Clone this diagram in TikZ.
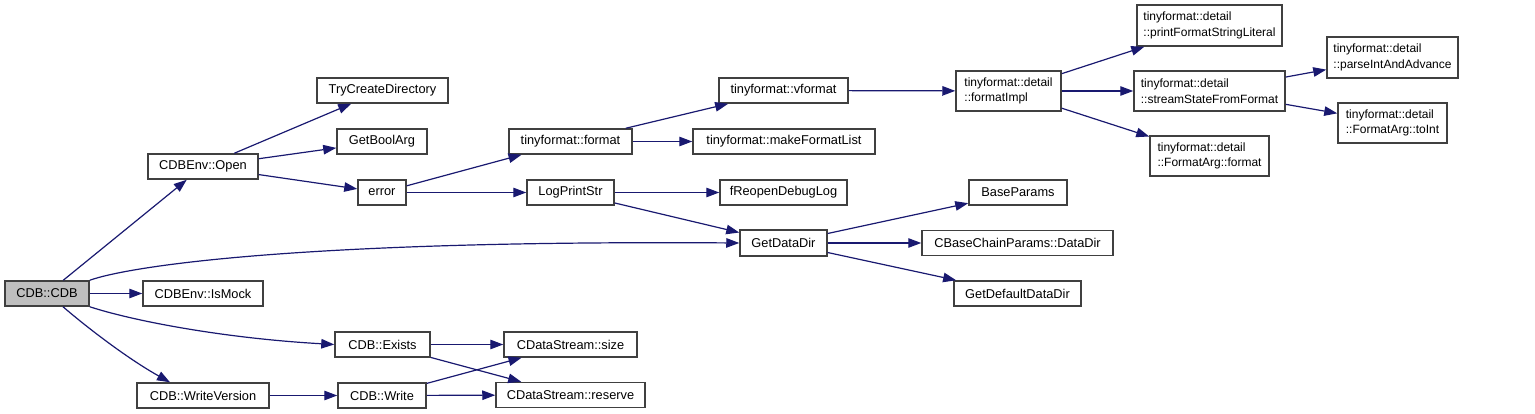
\documentclass[tikz,border=0pt]{standalone}
\usepackage{fontspec}
\setmainfont{Liberation Sans}
\usepackage{xcolor}
\usetikzlibrary{arrows.meta}
\definecolor{edgeblue}{HTML}{191970}
\definecolor{rootgray}{HTML}{BFBFBF}
\begin{document}
\begin{tikzpicture}[
            x=1pt, y=-1pt,
            fn/.style={rectangle, draw=black!75, fill=white, line width=1.5pt, minimum height=25pt, inner sep=2pt, align=left, font=\fontsize{12.8}{15}\selectfont},
            fntwo/.style={fn, font=\fontsize{12}{15.5}\selectfont},
            root/.style={fn, fill=rootgray},
            arrow/.style={-{Triangle[length=13pt,width=9.5pt]}, draw=edgeblue, line width=1.2pt}
        ]
        \useasboundingbox (0,0) rectangle (1535,414);

        % Root
        \node[root, minimum width=84pt] (cdb) at (47,293.5) {CDB::CDB};

        % First level
        \node[fn, minimum width=110pt] (open) at (203,166.5) {CDBEnv::Open};
        \node[fn, minimum width=120pt] (ismock) at (203,293.5) {CDBEnv::IsMock};
        \node[fn, minimum width=132pt] (writeversion) at (203,395.5) {CDB::WriteVersion};
        \node[fn, minimum width=95pt] (exists) at (382.5,344.5) {CDB::Exists};
        \node[fn, minimum width=88pt] (write) at (382,395.5) {CDB::Write};

        % CDBEnv::Open callees
        \node[fn, minimum width=131pt] (trycreate) at (382.5,90.5) {TryCreateDirectory};
        \node[fn, minimum width=90pt] (getboolarg) at (382,141.5) {GetBoolArg};
        \node[fn, minimum width=48pt] (error) at (382,192.5) {error};

        % Formatting
        \node[fn, minimum width=123pt] (tfformat) at (570.5,141.5) {tinyformat::format};
        \node[fn, minimum width=87pt] (logprint) at (570.5,192.5) {LogPrintStr};
        \node[fn, minimum width=129pt] (vformat) at (783.5,90.5) {tinyformat::vformat};
        \node[fn, minimum width=182pt] (makelist) at (784,141.5) {tinyformat::makeFormatList};
        \node[fn, minimum width=127pt] (freopen) at (783.5,192.5) {fReopenDebugLog};
        \node[fntwo, minimum width=105pt, minimum height=40pt] (formatimpl) at (1008.5,91) {tinyformat::detail\\::formatImpl};
        \node[fntwo, minimum width=145pt, minimum height=41pt] (printlit) at (1209.5,25.5) {tinyformat::detail\\::printFormatStringLiteral};
        \node[fntwo, minimum width=151pt, minimum height=40pt] (streamstate) at (1209.5,91) {tinyformat::detail\\::streamStateFromFormat};
        \node[fntwo, minimum width=119pt, minimum height=40pt] (argformat) at (1209.5,156) {tinyformat::detail\\::FormatArg::format};
        \node[fntwo, minimum width=131pt, minimum height=41pt] (parseint) at (1392.5,57.5) {tinyformat::detail\\::parseIntAndAdvance};
        \node[fntwo, minimum width=109pt, minimum height=40pt] (toint) at (1392.5,123) {tinyformat::detail\\::FormatArg::toInt};

        % Data dir
        \node[fn, minimum width=87pt, minimum height=26pt] (getdatadir) at (783.5,243) {GetDataDir};
        \node[fn, minimum width=98pt] (baseparams) at (1018,192.5) {BaseParams};
        \node[fn, minimum width=191pt] (chaindatadir) at (1017.5,243) {CBaseChainParams::DataDir};
        \node[fn, minimum width=127pt] (defaultdatadir) at (1017.5,293.5) {GetDefaultDataDir};

        % Streams
        \node[fn, minimum width=133pt] (dssize) at (570.5,344.5) {CDataStream::size};
        \node[fn, minimum width=149pt] (dsreserve) at (570.5,395) {CDataStream::reserve};

        % Arrows
        \draw[arrow] (cdb) -- (open);
        \draw[arrow] (cdb.north east) .. controls (130,266) and (300,240) .. (getdatadir.west);
        \draw[arrow] (cdb) -- (ismock);
        \draw[arrow] (cdb.south east) .. controls (130,320) and (220,338) .. (exists.west);
        \draw[arrow] ([xshift=16pt]cdb.south) .. controls (90,330) and (130,360) .. ([xshift=-33pt]writeversion.north);
        \draw[arrow] (open) -- (trycreate);
        \draw[arrow] (open) -- (getboolarg);
        \draw[arrow] (open) -- (error);
        \draw[arrow] (error) -- (tfformat);
        \draw[arrow] (error) -- (logprint);
        \draw[arrow] (tfformat) -- (vformat);
        \draw[arrow] (tfformat) -- (makelist);
        \draw[arrow] (vformat) -- (formatimpl);
        \draw[arrow] (formatimpl) -- (printlit);
        \draw[arrow] (formatimpl) -- (streamstate);
        \draw[arrow] (formatimpl) -- (argformat);
        \draw[arrow] (streamstate) -- (parseint);
        \draw[arrow] (streamstate) -- (toint);
        \draw[arrow] (logprint) -- (freopen);
        \draw[arrow] (logprint) -- (getdatadir);
        \draw[arrow] (getdatadir) -- (baseparams);
        \draw[arrow] (getdatadir) -- (chaindatadir);
        \draw[arrow] (getdatadir) -- (defaultdatadir);
        \draw[arrow] (writeversion) -- (write);
        \draw[arrow] (exists) -- (dssize);
        \draw[arrow] (exists) -- (dsreserve);
        \draw[arrow] (write) -- (dssize);
        \draw[arrow] (write) -- (dsreserve);

        \end{tikzpicture}
\end{document}
